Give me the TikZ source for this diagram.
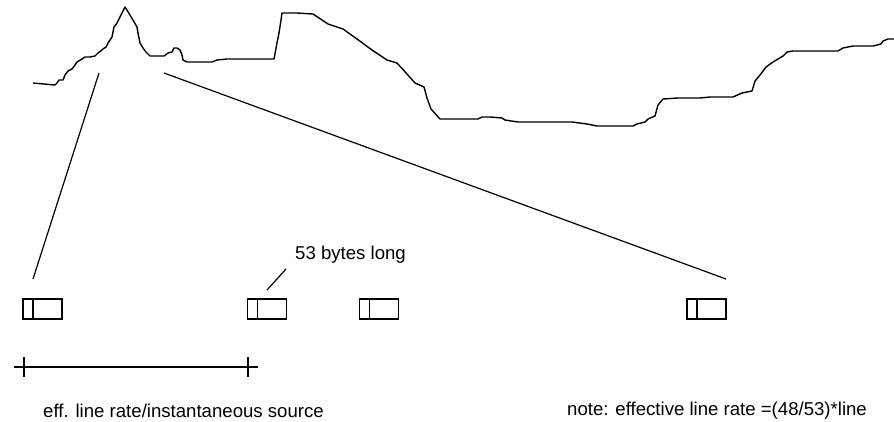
\documentclass[tikz,border=0pt]{standalone}
\usepackage{fontspec}
\setmainfont{Liberation Sans}
\begin{document}
\begin{tikzpicture}[x=1pt,y=-1pt,
  trace/.style={line width=1.4pt,line join=round},
  guide/.style={line width=1.2pt},
  cell/.style={draw,line width=1.2pt,minimum width=39pt,minimum height=20pt,inner sep=0pt,
    path picture={\draw[line width=1.2pt] ([xshift=10pt]path picture bounding box.north west) -- ([xshift=10pt]path picture bounding box.south west);}},
  lbl/.style={font=\fontsize{18.6}{22}\selectfont,inner sep=0pt,anchor=west}]
\useasboundingbox (0,0) rectangle (894,421);
% source rate trace
\draw[trace] (33,83) -- (55,85) -- (57,83) -- (59,80) -- (63,80) -- (65,75) -- (68,71) -- (72,69)
  -- (75,65) -- (77,62) -- (82,59) -- (85,57) -- (90,57) -- (95,56) -- (98,53) -- (103,49)
  -- (106,47) -- (108,43) -- (112,37) -- (114,27) -- (117,23) -- (119,19) -- (125,7)
  -- (130,15) -- (137,27) -- (138,33) -- (140,43) -- (143,48) -- (146,52) -- (150,56)
  -- (164,56) -- (168,53) -- (172,52) -- (174,48) -- (177,48) -- (180,50) -- (182,55)
  -- (183,60) -- (187,62) -- (212,62) -- (217,60) -- (227,59) -- (274,59) -- (277,43)
  -- (279,33) -- (281,20) -- (282,13) -- (297,13) -- (313,14) -- (328,24) -- (343,29)
  -- (357,39) -- (372,50) -- (387,60) -- (397,63) -- (407,74) -- (415,83) -- (424,87)
  -- (427,98) -- (431,109) -- (440,119) -- (478,119) -- (482,117) -- (490,117) -- (502,118)
  -- (505,120) -- (518,122) -- (572,122) -- (587,124) -- (597,126) -- (633,126) -- (637,124)
  -- (645,122) -- (648,119) -- (655,116) -- (658,105) -- (663,99) -- (678,98) -- (700,98)
  -- (710,97) -- (733,97) -- (742,93) -- (752,91) -- (755,81) -- (760,75) -- (766,67)
  -- (773,62) -- (778,59) -- (783,56) -- (787,52) -- (793,51) -- (838,51) -- (843,48)
  -- (853,46) -- (873,46) -- (881,44) -- (883,41) -- (888,39) -- (894,39);
% cells on the line
\node[cell] (c1) at (42.5,309) {};
\node[cell] (c2) at (267,309) {};
\node[cell] (c3) at (379,309) {};
\node[cell] (c4) at (706.5,309) {};
% zoom lines from the peak down to the cells
\coordinate (pl) at (99,73);
\coordinate (pr) at (164,73);
\coordinate (el) at (33,279);
\coordinate (er) at (726,279);
\draw[guide] (pl) -- (el);
\draw[guide] (pr) -- (er);
% cell size label
\node[lbl] (len) at (295,255) {53 bytes long};
\coordinate (lt) at (286,269);
\coordinate (lb) at (267,290);
\draw[guide] (lt) -- (lb);
% spacing marker
\coordinate (m1) at (14,367);
\coordinate (m2) at (258,367);
\coordinate (t1a) at (24,357);
\coordinate (t1b) at (24,377);
\coordinate (t2a) at (248,357);
\coordinate (t2b) at (248,377);
\draw[guide] (m1) -- (m2);
\draw[guide] (t1a) -- (t1b);
\draw[guide] (t2a) -- (t2b);
\node[lbl] (eff) at (43,411) {eff. line rate/instantaneous source};
\node[lbl] (note) at (567,411) {note: effective line rate =(48/53)*line};
\end{tikzpicture}
\end{document}
